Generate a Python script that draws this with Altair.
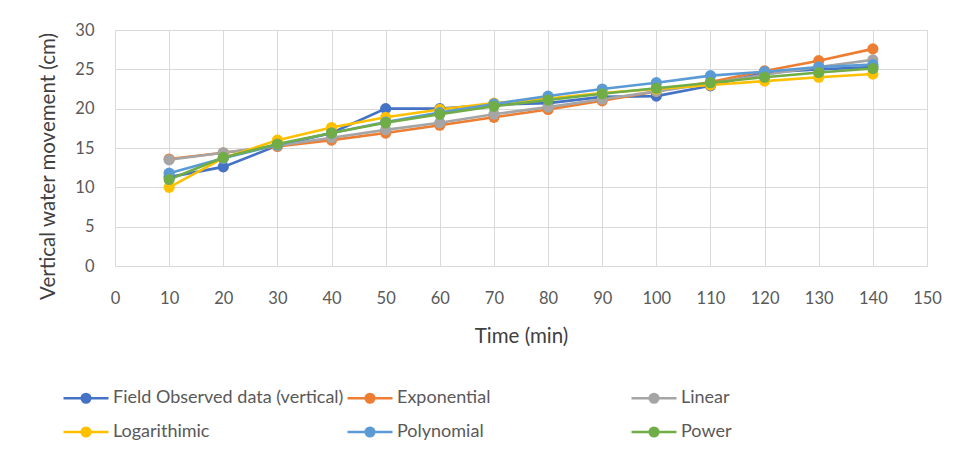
import altair as alt
import pandas as pd

time_min = [10, 20, 30, 40, 50, 60, 70, 80, 90, 100, 110, 120, 130, 140]
field_obs = [11.3, 12.6, 15.3, 16.9, 20.0, 20.0, 20.5, 20.7, 21.5, 21.6, 22.9, 24.6, 25.0, 25.3]
exponential = [13.6, 14.4, 15.2, 16.0, 16.9, 17.9, 18.9, 19.9, 21.0, 22.2, 23.4, 24.8, 26.1, 27.6]
linear = [13.5, 14.4, 15.3, 16.3, 17.3, 18.2, 19.3, 20.2, 21.2, 22.2, 23.2, 24.3, 25.3, 26.2]
logarithmic = [10.0, 13.7, 16.0, 17.6, 18.9, 19.9, 20.7, 21.3, 22.0, 22.5, 23.0, 23.5, 24.0, 24.4]
polynomial = [11.8, 13.7, 15.4, 16.9, 18.3, 19.5, 20.6, 21.6, 22.5, 23.3, 24.2, 24.7, 25.3, 25.6]
power = [11.0, 13.8, 15.5, 16.9, 18.2, 19.3, 20.3, 21.1, 21.9, 22.6, 23.3, 24.0, 24.6, 25.1]

series_names = ["Field Observed data (vertical)", "Exponential", "Linear",
                "Logarithimic", "Polynomial", "Power"]
series_values = [field_obs, exponential, linear, logarithmic, polynomial, power]
series_colors = ["#4472C4", "#ED7D31", "#A5A5A5", "#FFC000", "#5B9BD5", "#70AD47"]

rows = []
for i, (name, vals) in enumerate(zip(series_names, series_values)):
    for t, v in zip(time_min, vals):
        rows.append({"series": name, "order": i, "time": t, "value": v})
df = pd.DataFrame(rows)

FONT = "Lato"
GRID = "#d9d9d9"
TXT = "#595959"

# legend symbol: a line with a (filled-looking) circle marker
sym_path = ("M-1,0H1"
            "M-0.19,0A0.19,0.19 0 1,1 0.19,0A0.19,0.19 0 1,1 -0.19,0Z"
            "M-0.09,0A0.09,0.09 0 1,1 0.09,0A0.09,0.09 0 1,1 -0.09,0Z"
            "M-0.02,0A0.02,0.02 0 1,1 0.02,0A0.02,0.02 0 1,1 -0.02,0Z")

chart = alt.Chart(df).mark_line(
    strokeWidth=2.6,
    point=alt.OverlayMarkDef(filled=True, size=125, opacity=1),
).encode(
    x=alt.X("time:Q",
            scale=alt.Scale(domain=[0, 150], nice=False),
            axis=alt.Axis(values=list(range(0, 151, 10)), title="Time (min)",
                          grid=True, gridColor=GRID, domainColor=GRID,
                          ticks=False, labelPadding=24, titlePadding=20,
                          labelFlush=False, labelOverlap=False,
                          labelFontSize=16.5, titleFontSize=20.5,
                          labelColor=TXT, titleColor="#404040",
                          labelFont=FONT, titleFont=FONT, titleFontWeight="normal")),
    y=alt.Y("value:Q",
            scale=alt.Scale(domain=[0, 30], nice=False),
            axis=alt.Axis(values=list(range(0, 31, 5)), title="Vertical water movement (cm)",
                          grid=True, gridColor=GRID, domainColor=GRID,
                          ticks=False, labelPadding=21, titlePadding=16, titleY=136,
                          labelFlush=False,
                          labelFontSize=16.5, titleFontSize=20.5,
                          labelColor=TXT, titleColor="#404040",
                          labelFont=FONT, titleFont=FONT, titleFontWeight="normal")),
    color=alt.Color("series:N",
                    scale=alt.Scale(domain=series_names, range=series_colors),
                    sort=series_names,
                    legend=alt.Legend(title=None, orient="none", legendX=-53, legendY=344,
                                      columns=3, direction="horizontal", gridAlign="all",
                                      symbolType=sym_path, symbolSize=2025,
                                      symbolStrokeWidth=2.6, labelOffset=3,
                                      columnPadding=-2, rowPadding=-3,
                                      labelFontSize=18, labelFont=FONT,
                                      labelColor=TXT, labelLimit=500)),
    order=alt.Order("time:Q"),
    detail="series:N",
).properties(
    width=812, height=236,
    autosize=alt.AutoSizeParams(type="none"),
    padding={"left": 107, "top": 22, "right": 19, "bottom": 185},
).configure_view(
    stroke=GRID, strokeWidth=1,
).configure(background="white")

chart.save("out.html", embed_options={"renderer": "svg", "actions": False})
